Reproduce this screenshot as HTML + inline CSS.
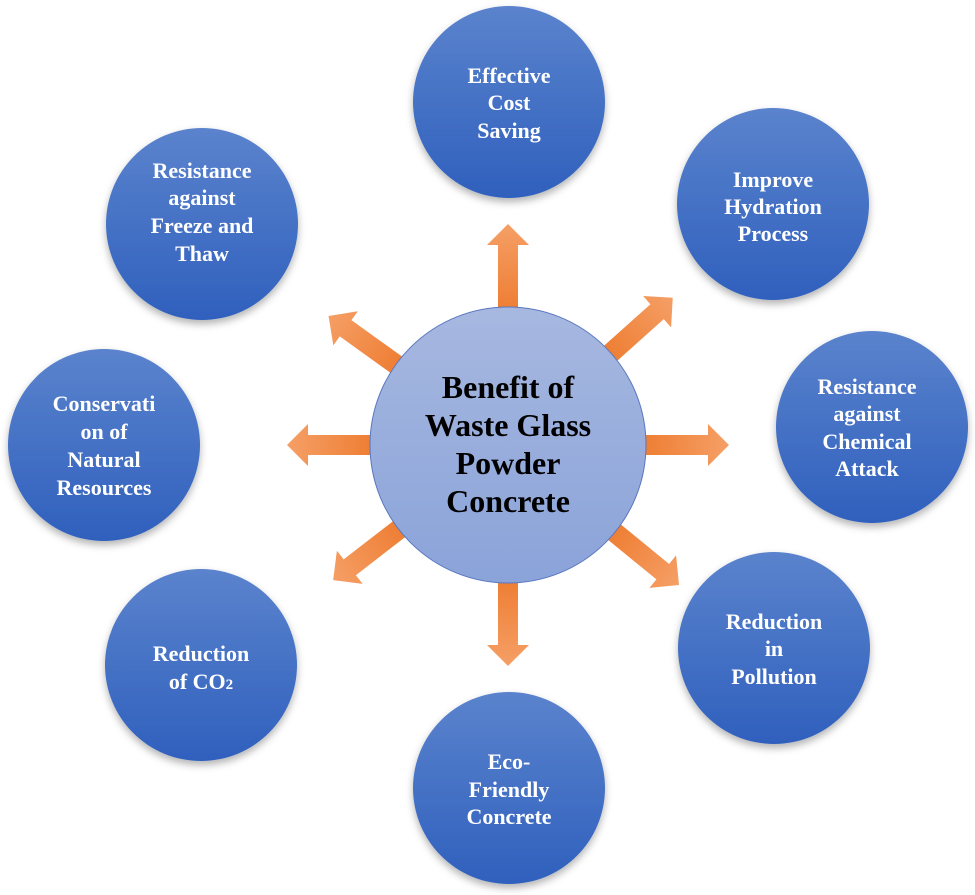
<!DOCTYPE html>
<html><head><meta charset="utf-8"><style>
html,body{margin:0;padding:0;background:#fff;}
svg{display:block;}
.o{font-family:"Liberation Serif",serif;font-weight:bold;font-size:22px;fill:#fff;text-anchor:middle;}
.c{font-family:"Liberation Serif",serif;font-weight:bold;font-size:32px;fill:#000;text-anchor:middle;}
</style></head><body>
<svg width="975" height="895" viewBox="0 0 975 895" xmlns="http://www.w3.org/2000/svg">
<defs>
<linearGradient id="bl" x1="0" y1="0" x2="0" y2="1">
<stop offset="0" stop-color="#5b83cd"/><stop offset="1" stop-color="#2f60bd"/></linearGradient>
<linearGradient id="cg" x1="0" y1="0" x2="0" y2="1">
<stop offset="0" stop-color="#a7b8e0"/><stop offset="1" stop-color="#8aa3d9"/></linearGradient>
<linearGradient id="og" x1="0" y1="0" x2="1" y2="0">
<stop offset="0" stop-color="#e46c1a"/><stop offset="0.6" stop-color="#ee7d32"/><stop offset="1" stop-color="#f59f66"/></linearGradient>
<filter id="sh" x="-20%" y="-20%" width="140%" height="150%">
<feDropShadow dx="0" dy="4" stdDeviation="4" flood-color="#000" flood-opacity="0.3"/></filter>
<polygon id="ar" points="0,-10 200,-10 200,-21 221,0 200,21 200,10 0,10"/>
</defs>
<g fill="url(#og)">
<use href="#ar" transform="translate(508,445) rotate(-90)"/>
<use href="#ar" transform="translate(508,445) rotate(0)"/>
<use href="#ar" transform="translate(508,445) rotate(180)"/>
<use href="#ar" transform="translate(508,445) rotate(90)"/>
<use href="#ar" transform="translate(508,445) rotate(-41.8)"/>
<use href="#ar" transform="translate(508,445) rotate(-144.3)"/>
<use href="#ar" transform="translate(508,445) rotate(142.3)"/>
<use href="#ar" transform="translate(508,445) rotate(39.3)"/>
</g>
<circle cx="508" cy="445" r="138" fill="url(#cg)" stroke="#5a78c0" stroke-width="1"/>
<text class="c" x="508" y="398">Benefit of</text>
<text class="c" x="508" y="436">Waste Glass</text>
<text class="c" x="508" y="474">Powder</text>
<text class="c" x="508" y="512">Concrete</text>
<g fill="url(#bl)" filter="url(#sh)">
<circle cx="509" cy="102" r="96"/>
<circle cx="773" cy="204" r="96"/>
<circle cx="872" cy="427" r="96"/>
<circle cx="774" cy="648" r="96"/>
<circle cx="509" cy="788" r="96"/>
<circle cx="201" cy="665" r="96"/>
<circle cx="104" cy="445" r="96"/>
<circle cx="202" cy="224" r="96"/>
</g>
<text class="o" x="509" y="83">Effective</text>
<text class="o" x="509" y="110">Cost</text>
<text class="o" x="509" y="138">Saving</text>
<text class="o" x="773" y="187">Improve</text>
<text class="o" x="773" y="214">Hydration</text>
<text class="o" x="773" y="241">Process</text>
<text class="o" x="867" y="394">Resistance</text>
<text class="o" x="867" y="421">against</text>
<text class="o" x="867" y="449">Chemical</text>
<text class="o" x="867" y="476">Attack</text>
<text class="o" x="774" y="629">Reduction</text>
<text class="o" x="774" y="656">in</text>
<text class="o" x="774" y="684">Pollution</text>
<text class="o" x="509" y="769">Eco-</text>
<text class="o" x="509" y="797">Friendly</text>
<text class="o" x="509" y="824">Concrete</text>
<text class="o" x="201" y="661">Reduction</text>
<text class="o" x="201" y="689">of CO<tspan font-size="15">2</tspan></text>
<text class="o" x="104" y="411">Conservati</text>
<text class="o" x="104" y="439">on of</text>
<text class="o" x="104" y="467">Natural</text>
<text class="o" x="104" y="495">Resources</text>
<text class="o" x="202" y="178">Resistance</text>
<text class="o" x="202" y="205">against</text>
<text class="o" x="202" y="233">Freeze and</text>
<text class="o" x="202" y="261">Thaw</text>
</svg>
</body></html>
